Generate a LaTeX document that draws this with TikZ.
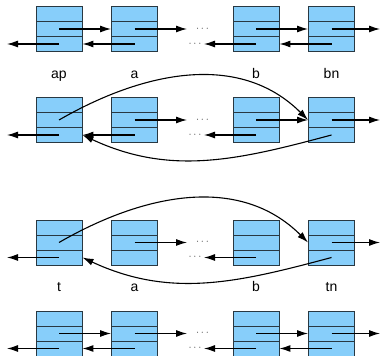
\documentclass[tikz,border=0pt]{standalone}
\usepackage{fontspec}
\setmainfont{Liberation Sans}
\usetikzlibrary{arrows.meta}
\definecolor{boxfill}{RGB}{135,206,250}
\definecolor{boxline}{RGB}{40,56,66}
\tikzset{
  cell/.style={draw=boxline, line width=0.9pt, fill=boxfill, minimum width=46pt, minimum height=45pt, inner sep=0pt,
    path picture={\draw[boxline, line width=0.9pt] ([yshift=7.5pt]path picture bounding box.west) -- ([yshift=7.5pt]path picture bounding box.east)
      ([yshift=-7.5pt]path picture bounding box.west) -- ([yshift=-7.5pt]path picture bounding box.east);}},
  arr/.style={-{Latex[length=11pt,width=7pt]}, line width=1.1pt, black},
  dotsnode/.style={inner sep=0pt, font=\fontsize{11}{13}\selectfont, text=black!70},
  lbl/.style={anchor=base, font=\fontsize{14}{16}\selectfont}
}
\begin{document}
\begin{tikzpicture}[x=1pt,y=1pt]
\useasboundingbox (0,0) rectangle (383,356);
% ---------- Row 1 ----------
\node[cell] (r1a) at (59,327) {};
\node[cell] (r1b) at (134.5,327) {};
\node[cell] (r1c) at (256,327) {};
\node[cell] (r1d) at (331.5,327) {};
\coordinate (r1l) at (7,312);
\coordinate (r1f) at (187,327);
\coordinate (r1g) at (204,312);
\coordinate (r1r) at (380,327);
\node[dotsnode] (r1fd) at (202.5,327) {$\cdots$};
\node[dotsnode] (r1bd) at (195,312) {$\cdots$};
\draw[arr] (r1a.center) -- (r1b.west);
\draw[arr] (r1b.center) -- (r1f);
\draw[arr] (r1c.center) -- (r1d.west);
\draw[arr] (r1d.center) -- (r1r);
\draw[arr] ([yshift=-15pt]r1a.center) -- (r1l);
\draw[arr] ([yshift=-15pt]r1b.center) -- ([yshift=-15pt]r1a.east);
\draw[arr] ([yshift=-15pt]r1c.center) -- (r1g);
\draw[arr] ([yshift=-15pt]r1d.center) -- ([yshift=-15pt]r1c.east);
\node[lbl] (l1a) at (59,277) {ap};
\node[lbl] (l1b) at (134.5,277) {a};
\node[lbl] (l1c) at (256,277) {b};
\node[lbl] (l1d) at (331.5,277) {bn};
% ---------- Row 2 ----------
\node[cell] (r2a) at (59,236) {};
\node[cell] (r2b) at (134.5,236) {};
\node[cell] (r2c) at (256,236) {};
\node[cell] (r2d) at (331.5,236) {};
\coordinate (r2l) at (7,221);
\coordinate (r2f) at (187,236);
\coordinate (r2g) at (204,221);
\coordinate (r2r) at (380,236);
\node[dotsnode] (r2fd) at (202.5,236) {$\cdots$};
\node[dotsnode] (r2bd) at (195,221) {$\cdots$};
\draw[arr] (r2b.center) -- (r2f);
\draw[arr] (r2c.center) -- (r2d.west);
\draw[arr] (r2d.center) -- (r2r);
\draw[arr] ([yshift=-15pt]r2a.center) -- (r2l);
\draw[arr] ([yshift=-15pt]r2b.center) -- ([yshift=-15pt]r2a.east);
\draw[arr] ([yshift=-15pt]r2c.center) -- (r2g);
\draw[arr] (r2a.center) to[out=30,in=135] (r2d.west);
\draw[arr] ([yshift=-15pt]r2d.center) to[out=195,in=-25] ([yshift=-15pt]r2a.east);
% ---------- Row 3 ----------
\node[cell] (r3a) at (59,113.5) {};
\node[cell] (r3b) at (134.5,113.5) {};
\node[cell] (r3c) at (256,113.5) {};
\node[cell] (r3d) at (331.5,113.5) {};
\coordinate (r3l) at (7,98.5);
\coordinate (r3f) at (187,113.5);
\coordinate (r3g) at (204,98.5);
\coordinate (r3r) at (380,113.5);
\node[dotsnode] (r3fd) at (202.5,113.5) {$\cdots$};
\node[dotsnode] (r3bd) at (195,98.5) {$\cdots$};
\draw[arr] (r3b.center) -- (r3f);
\draw[arr] (r3d.center) -- (r3r);
\draw[arr] ([yshift=-15pt]r3a.center) -- (r3l);
\draw[arr] ([yshift=-15pt]r3c.center) -- (r3g);
\draw[arr] (r3a.center) to[out=30,in=135] (r3d.west);
\draw[arr] ([yshift=-15pt]r3d.center) to[out=195,in=-25] ([yshift=-15pt]r3a.east);
\node[lbl] (l3a) at (59,64) {t};
\node[lbl] (l3b) at (134.5,64) {a};
\node[lbl] (l3c) at (256,64) {b};
\node[lbl] (l3d) at (331.5,64) {tn};
% ---------- Row 4 ----------
\node[cell] (r4a) at (59,22.5) {};
\node[cell] (r4b) at (134.5,22.5) {};
\node[cell] (r4c) at (256,22.5) {};
\node[cell] (r4d) at (331.5,22.5) {};
\coordinate (r4l) at (7,7.5);
\coordinate (r4f) at (187,22.5);
\coordinate (r4g) at (204,7.5);
\coordinate (r4r) at (380,22.5);
\node[dotsnode] (r4fd) at (202.5,22.5) {$\cdots$};
\node[dotsnode] (r4bd) at (195,7.5) {$\cdots$};
\draw[arr] (r4a.center) -- (r4b.west);
\draw[arr] (r4b.center) -- (r4f);
\draw[arr] (r4c.center) -- (r4d.west);
\draw[arr] (r4d.center) -- (r4r);
\draw[arr] ([yshift=-15pt]r4a.center) -- (r4l);
\draw[arr] ([yshift=-15pt]r4b.center) -- ([yshift=-15pt]r4a.east);
\draw[arr] ([yshift=-15pt]r4c.center) -- (r4g);
\draw[arr] ([yshift=-15pt]r4d.center) -- ([yshift=-15pt]r4c.east);
\end{tikzpicture}
\end{document}
